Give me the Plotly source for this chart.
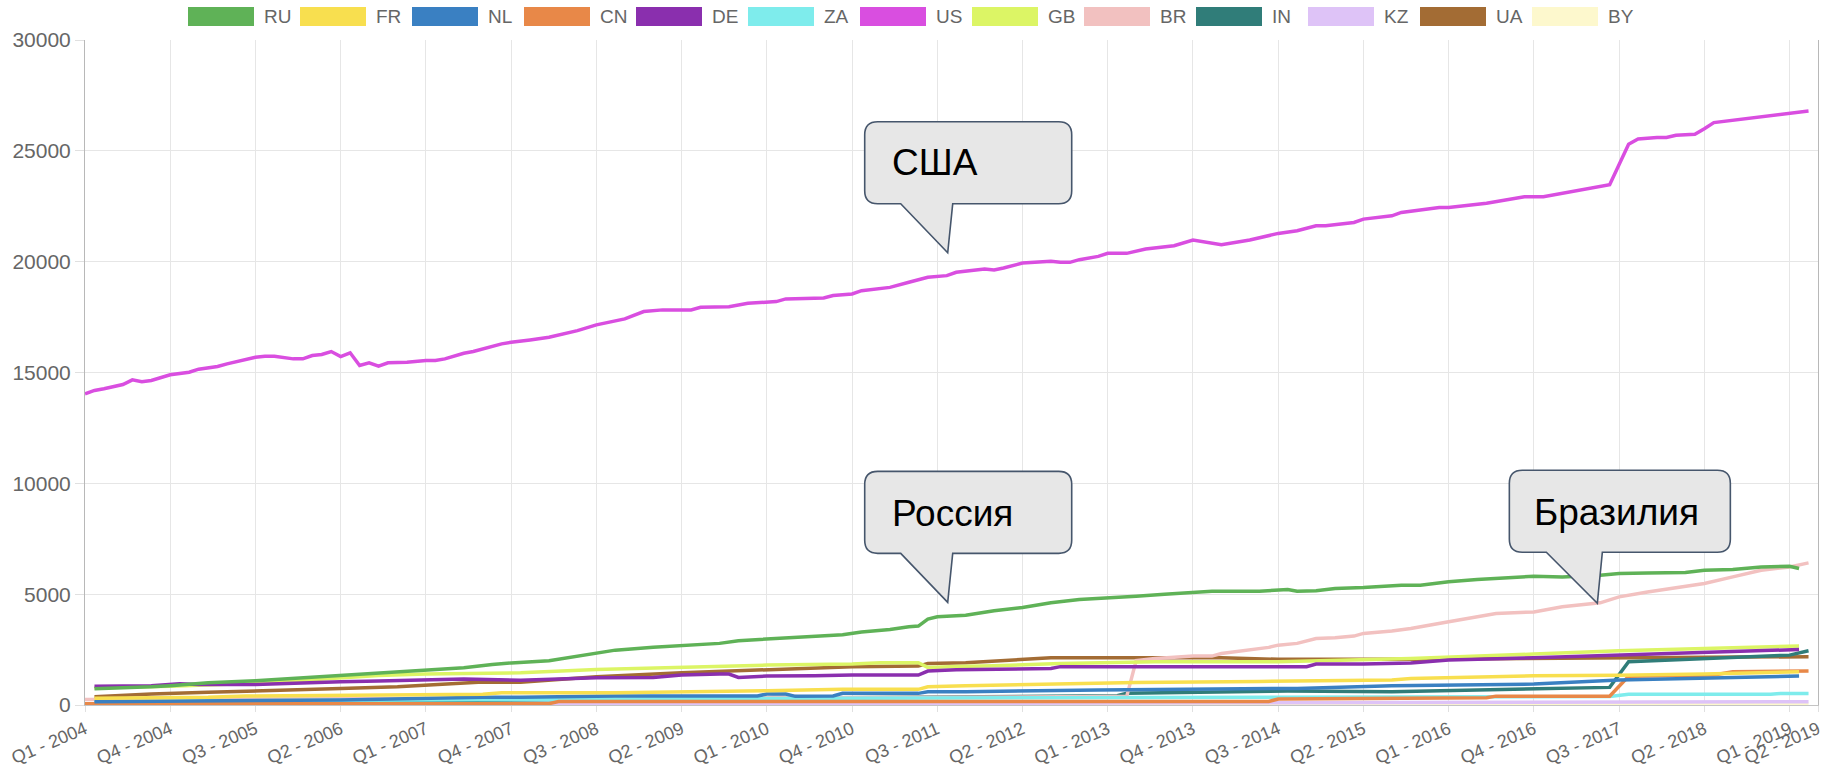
import plotly.graph_objects as go

# ---------------- data (month index 0 = Jan 2004) ----------------
TICK_MONTHS = [0, 9, 18, 27, 36, 45, 54, 63, 72, 81, 90, 99, 108, 117, 126, 135, 144, 153, 162, 171, 180, 183]
TICK_LABELS = ["Q1 - 2004", "Q4 - 2004", "Q3 - 2005", "Q2 - 2006", "Q1 - 2007", "Q4 - 2007",
               "Q3 - 2008", "Q2 - 2009", "Q1 - 2010", "Q4 - 2010", "Q3 - 2011", "Q2 - 2012",
               "Q1 - 2013", "Q4 - 2013", "Q3 - 2014", "Q2 - 2015", "Q1 - 2016", "Q4 - 2016",
               "Q3 - 2017", "Q2 - 2018", "Q1 - 2019", "Q2 - 2019"]

RU_m = [1, 4, 7, 9, 13, 18, 22, 27, 31, 35, 40, 43, 45, 49, 52, 54, 56, 60, 63, 67, 69, 72, 75, 77, 80, 82, 85, 87, 88, 89, 90, 93, 96, 99, 102, 105, 108, 111, 114, 117, 119, 124, 127, 128, 130, 132, 135, 139, 141, 144, 147, 153, 156, 160, 162, 165, 169, 171, 174, 177, 180, 181]
RU_v = [730, 760, 820, 870, 1000, 1095, 1200, 1350, 1425, 1540, 1680, 1830, 1900, 2000, 2205, 2325, 2475, 2600, 2690, 2780, 2900, 2970, 3050, 3110, 3170, 3290, 3410, 3530, 3560, 3875, 3980, 4050, 4250, 4400, 4610, 4760, 4820, 4910, 5000, 5060, 5135, 5135, 5210, 5135, 5150, 5255, 5300, 5405, 5405, 5555, 5660, 5810, 5780, 5855, 5930, 5960, 5975, 6080, 6110, 6230, 6260, 6155]

FR_m = [1, 13, 17, 27, 42, 44, 56, 72, 80, 88, 89, 93, 101, 111, 124, 138, 140, 153, 162, 171, 181]
FR_v = [300, 345, 405, 450, 480, 555, 555, 645, 705, 705, 825, 870, 945, 1020, 1065, 1125, 1200, 1320, 1345, 1395, 1500]

NL_m = [1, 27, 42, 46, 56, 71, 72, 74, 75, 79, 80, 88, 89, 93, 107, 117, 128, 138, 153, 162, 171, 181]
NL_v = [150, 225, 345, 345, 405, 405, 495, 495, 390, 405, 525, 525, 600, 600, 675, 705, 750, 870, 945, 1125, 1200, 1305]

CN_m = [0, 49, 50, 125, 126, 138, 148, 149, 161, 163, 172, 174, 182]
CN_v = [60, 60, 160, 160, 270, 300, 330, 400, 400, 1300, 1350, 1500, 1530]

DE_m = [1, 7, 10, 12, 18, 22, 27, 31, 35, 40, 46, 54, 60, 63, 67, 68, 69, 72, 77, 81, 88, 89, 92, 102, 103, 129, 130, 135, 140, 144, 153, 162, 171, 177, 181]
DE_v = [850, 870, 960, 930, 930, 1000, 1050, 1080, 1125, 1170, 1120, 1230, 1245, 1350, 1395, 1395, 1245, 1305, 1320, 1350, 1350, 1530, 1590, 1650, 1730, 1730, 1845, 1845, 1890, 2025, 2130, 2250, 2370, 2475, 2505]

ZA_m = [1, 45, 100, 161, 163, 178, 179, 182]
ZA_v = [150, 250, 330, 380, 480, 480, 520, 520]

US_m = [0, 1, 2, 4, 5, 6, 7, 9, 11, 12, 14, 15, 18, 19, 20, 22, 23, 24, 25, 26, 27, 28, 29, 30, 31, 32, 34, 35, 36, 37, 38, 40, 41, 44, 45, 47, 49, 52, 54, 57, 59, 61, 64, 65, 68, 70, 73, 74, 78, 79, 81, 82, 85, 87, 88, 89, 91, 92, 95, 96, 97, 99, 102, 103, 104, 105, 107, 108, 110, 112, 115, 117, 120, 123, 126, 128, 130, 131, 134, 135, 138, 139, 143, 144, 148, 152, 154, 157, 159, 161, 163, 164, 166, 167, 168, 170, 171, 172, 182]
US_v = [14040, 14190, 14265, 14460, 14670, 14580, 14640, 14895, 15010, 15150, 15270, 15390, 15690, 15735, 15735, 15615, 15615, 15765, 15810, 15945, 15720, 15890, 15315, 15435, 15285, 15435, 15465, 15510, 15540, 15540, 15615, 15870, 15945, 16290, 16365, 16470, 16590, 16890, 17150, 17420, 17750, 17825, 17825, 17940, 17970, 18120, 18200, 18320, 18365, 18470, 18545, 18690, 18840, 19070, 19175, 19295, 19370, 19520, 19670, 19625, 19715, 19940, 20015, 19970, 19970, 20090, 20240, 20375, 20375, 20570, 20720, 20975, 20765, 20975, 21275, 21395, 21620, 21620, 21770, 21920, 22070, 22220, 22445, 22445, 22640, 22930, 22930, 23170, 23320, 23470, 25300, 25530, 25600, 25600, 25705, 25750, 26000, 26275, 26800]

GB_m = [1, 9, 18, 27, 31, 36, 40, 46, 54, 60, 63, 72, 81, 84, 88, 89, 92, 96, 103, 113, 126, 135, 140, 153, 162, 171, 181]
GB_v = [780, 850, 980, 1245, 1330, 1400, 1430, 1455, 1605, 1680, 1725, 1800, 1845, 1905, 1905, 1695, 1740, 1770, 1875, 1950, 1950, 2025, 2100, 2300, 2445, 2550, 2660]

BR_m = [0, 30, 60, 72, 74, 76, 108, 110, 111, 113, 117, 119, 120, 123, 125, 126, 128, 130, 132, 134, 135, 138, 140, 144, 149, 153, 156, 160, 162, 165, 169, 171, 174, 177, 180, 182]
BR_v = [250, 280, 300, 330, 450, 330, 380, 380, 2000, 2100, 2205, 2205, 2325, 2475, 2600, 2700, 2780, 3000, 3030, 3110, 3230, 3335, 3450, 3755, 4130, 4200, 4430, 4610, 4880, 5100, 5330, 5480, 5780, 6080, 6230, 6410]

IN_m = [1, 30, 60, 90, 109, 110, 117, 127, 138, 153, 161, 163, 171, 180, 182]
IN_v = [100, 180, 250, 350, 420, 525, 555, 630, 600, 750, 795, 1950, 2100, 2250, 2445]

KZ_m = [0, 60, 120, 182]
KZ_v = [20, 40, 100, 150]

UA_m = [1, 7, 13, 20, 27, 33, 39, 42, 46, 50, 54, 63, 72, 81, 88, 89, 93, 97, 102, 120, 126, 140, 160, 182]
UA_v = [375, 495, 570, 645, 750, 825, 945, 1035, 1030, 1150, 1275, 1455, 1605, 1725, 1755, 1875, 1905, 1995, 2130, 2130, 2060, 2060, 2100, 2180]

BY_m = [0, 90, 182]
BY_v = [10, 30, 60]

SERIES = [
    ("RU", RU_m, RU_v, "#5fb257"),
    ("FR", FR_m, FR_v, "#f8df4f"),
    ("NL", NL_m, NL_v, "#3a80c2"),
    ("CN", CN_m, CN_v, "#e88848"),
    ("DE", DE_m, DE_v, "#8a2fae"),
    ("ZA", ZA_m, ZA_v, "#7eecec"),
    ("US", US_m, US_v, "#d94ee0"),
    ("GB", GB_m, GB_v, "#dcf565"),
    ("BR", BR_m, BR_v, "#f2c1c0"),
    ("IN", IN_m, IN_v, "#307d79"),
    ("KZ", KZ_m, KZ_v, "#dec3f7"),
    ("UA", UA_m, UA_v, "#a36c34"),
    ("BY", BY_m, BY_v, "#fdf8cd"),
]

CALLOUTS = [
    # text, tip month, tip value
    ("США", 91.1, 20400),
    ("Россия", 91.1, 4630),
    ("Бразилия", 159.7, 4590),
]

# ---------------- figure ----------------
W, H = 1831, 766
ML, MR, MT, MB = 85, 13, 40, 61
FONT = "Liberation Sans, Arial, Helvetica, sans-serif"

fig = go.Figure()
for name, m, v, col in reversed(SERIES):
    fig.add_trace(go.Scatter(x=m, y=v, mode="lines", name=name,
                             line=dict(color=col, width=3.5), showlegend=False))

shapes = []
annotations = []

plot_w = W - ML - MR
plot_h = H - MT - MB
def px2paper_x(px):
    return (px - ML) / plot_w
def py2paper_y(py):
    return (H - MB - py) / plot_h

# custom legend (Chart.js style boxes)
leg_x0, leg_step, box_w, box_top, box_bot = 188, 112.0, 66, 7, 26
for i, (name, m, v, col) in enumerate(SERIES):
    bx = leg_x0 + i * leg_step
    shapes.append(dict(type="rect", xref="paper", yref="paper",
                       x0=px2paper_x(bx), x1=px2paper_x(bx + box_w),
                       y0=py2paper_y(box_bot), y1=py2paper_y(box_top),
                       fillcolor=col, line=dict(width=0), layer="above"))
    annotations.append(dict(xref="paper", yref="paper", x=px2paper_x(bx + box_w + 8),
                            y=py2paper_y((box_top + box_bot) / 2), text=name, showarrow=False,
                            xanchor="left", yanchor="middle",
                            font=dict(family=FONT, size=19, color="#666666")))

# speech-bubble callouts (pixel geometry anchored at the tail tip)
def bubble(left, right, bottom, top, bl, br, r=13):
    return (f"M {bl},{bottom} L {left + r},{bottom} Q {left},{bottom} {left},{bottom + r} "
            f"L {left},{top - r} Q {left},{top} {left + r},{top} "
            f"L {right - r},{top} Q {right},{top} {right},{top - r} "
            f"L {right},{bottom + r} Q {right},{bottom} {right - r},{bottom} "
            f"L {br},{bottom} L 0,0 Z")

geo = {
    "США": dict(left=-83, right=124, bottom=49, top=131, bl=-47, br=5, tx=-58, ty=90),
    "Россия": dict(left=-83, right=124, bottom=49, top=131, bl=-47, br=5, tx=-58, ty=89),
    "Бразилия": dict(left=-88, right=133, bottom=51, top=133, bl=-51, br=5, tx=-65, ty=91),
}
for text, tm, tv in CALLOUTS:
    g = geo[text]
    shapes.append(dict(type="path", xref="x", yref="y", xsizemode="pixel", ysizemode="pixel",
                       xanchor=tm, yanchor=tv,
                       path=bubble(g["left"], g["right"], g["bottom"], g["top"], g["bl"], g["br"]),
                       fillcolor="#e7e7e7", line=dict(color="#46566c", width=1.6), layer="above"))
    annotations.append(dict(xref="x", yref="y", x=tm, y=tv, xshift=g["tx"], yshift=g["ty"],
                            text=text, showarrow=False, xanchor="left", yanchor="middle",
                            font=dict(family=FONT, size=37, color="#000000")))

fig.update_layout(
    width=W, height=H, margin=dict(l=ML, r=MR, t=MT, b=MB, autoexpand=False),
    paper_bgcolor="white", plot_bgcolor="white",
    showlegend=False, shapes=shapes, annotations=annotations,
    font=dict(family=FONT, color="#666666"),
)
fig.update_xaxes(range=[0, 183], tickmode="array", tickvals=TICK_MONTHS, ticktext=TICK_LABELS,
                 tickangle=-23, showgrid=True, gridcolor="#e6e6e6", gridwidth=1,
                 showline=True, linecolor="#c4c4c4", linewidth=1, automargin=False,
                 ticks="outside", ticklen=6, tickcolor="#e0e0e0",
                 tickfont=dict(family=FONT, size=18, color="#666666"), zeroline=False)
fig.update_yaxes(range=[0, 30000], dtick=5000, tickformat="d", showgrid=True,
                 gridcolor="#e6e6e6", gridwidth=1, showline=True, linecolor="#b8b8b8",
                 linewidth=1, mirror=True, ticks="outside", ticklen=9, tickcolor="#e0e0e0",
                 automargin=False,
                 tickfont=dict(family=FONT, size=21, color="#666666"), zeroline=False)

fig.write_html("out.html", config={"displayModeBar": False},
               post_script="document.body.style.margin='0';document.body.style.overflow='hidden';")
